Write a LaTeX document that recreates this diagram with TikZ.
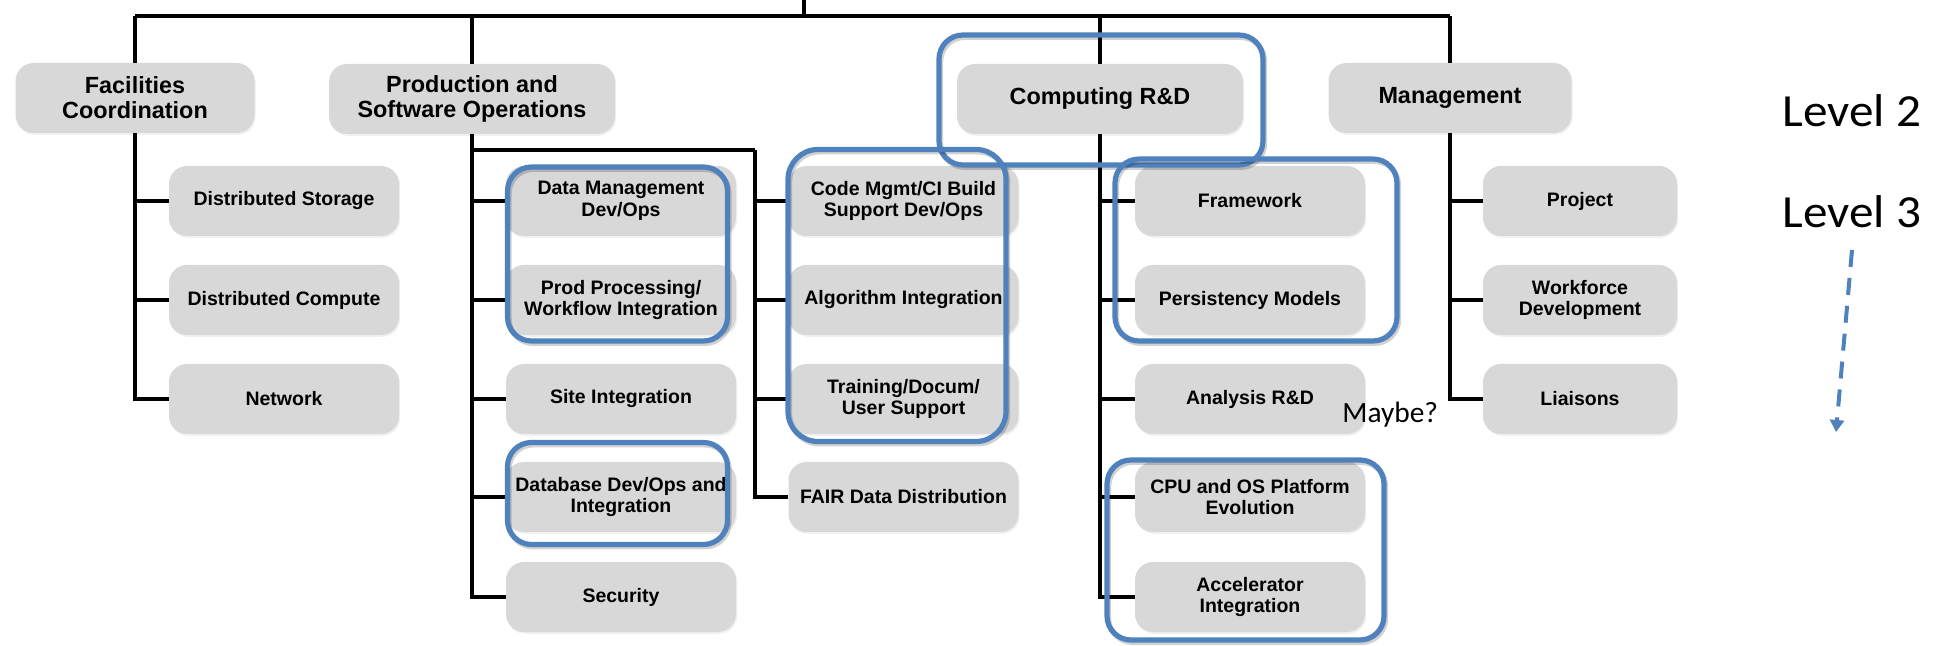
\documentclass[tikz,border=0pt]{standalone}
\usepackage{fontspec}
\setmainfont{Liberation Sans}
\newfontfamily\calib{Carlito}
\usetikzlibrary{shadows,arrows.meta}
\definecolor{boxgray}{HTML}{D8D8D8}
\definecolor{hlblue}{HTML}{4F81BD}
\tikzset{
  grayshadow/.style={drop shadow={shadow xshift=0.6pt,shadow yshift=-0.9pt,opacity=0.12}},
  lvtwo/.style={rounded corners=9pt, fill=boxgray, minimum height=35pt, align=center,
    inner sep=2pt, grayshadow, font=\fontsize{11.7pt}{12.6pt}\selectfont\bfseries},
  lvthree/.style={rounded corners=9pt, fill=boxgray, minimum height=35pt, minimum width=115pt,
    align=center, inner sep=1pt, grayshadow, font=\fontsize{9.75pt}{10.8pt}\selectfont\bfseries},
  mgchild/.style={lvthree, minimum width=97pt},
  conn/.style={line width=1.6pt, draw=black},
  topconn/.style={line width=2.2pt, draw=black},
  hl/.style={draw=hlblue, line width=2.6pt, rounded corners=12pt, inner sep=0pt,
    drop shadow={shadow xshift=0.8pt,shadow yshift=-1.2pt,opacity=0.18,fill=none,draw=black,line width=2.6pt}},
  leveltext/.style={font=\calib\fontsize{23pt}{27pt}\selectfont, inner sep=0pt, anchor=base west},
  maybetext/.style={font=\calib\fontsize{14.7pt}{17pt}\selectfont, inner sep=0pt, anchor=base west},
  dasharrow/.style={draw=hlblue, line width=2pt, dash pattern=on 8.5pt off 5.5pt,
    -{Triangle[width=7pt,length=6pt]}}
}
\begin{document}
\begin{tikzpicture}[x=0.5pt,y=-0.5pt]
\useasboundingbox (0,0) rectangle (1934,646);

% Level 2 boxes
\node[lvtwo, minimum width=119.5pt] (fac) at (135,98) {Facilities\\Coordination};
\node[lvtwo, minimum width=143pt] (prod) at (472,99) {Production and\\Software Operations};
\node[lvtwo, minimum width=143pt] (comp) at (1100,99) {Computing R\&D};
\node[lvtwo, minimum width=121.5pt] (mgmt) at (1450,98) {Management};

% Facilities children
\node[lvthree] (ds) at (284,201) {Distributed Storage};
\node[lvthree] (dc) at (284,300) {Distributed Compute};
\node[lvthree] (net) at (284,399) {Network};

% Production column 1
\node[lvthree] (dm) at (621,201) {Data Management\\Dev/Ops};
\node[lvthree] (pp) at (621,300) {Prod Processing/\\Workflow Integration};
\node[lvthree] (si) at (621,399) {Site Integration};
\node[lvthree] (db) at (621,497) {Database Dev/Ops and\\Integration};
\node[lvthree] (sec) at (621,597) {Security};

% Production column 2
\node[lvthree] (code) at (903.5,201) {Code Mgmt/CI Build\\Support Dev/Ops};
\node[lvthree] (alg) at (903.5,300) {Algorithm Integration};
\node[lvthree] (train) at (903.5,399) {Training/Docum/\\User Support};
\node[lvthree] (fair) at (903.5,497) {FAIR Data Distribution};

% Computing children
\node[lvthree] (fw) at (1250,201) {Framework};
\node[lvthree] (pm) at (1250,300) {Persistency Models};
\node[lvthree] (ana) at (1250,399) {Analysis R\&D};
\node[lvthree] (cpu) at (1250,497) {CPU and OS Platform\\Evolution};
\node[lvthree] (acc) at (1250,597) {Accelerator\\Integration};

% Management children
\node[mgchild] (proj) at (1580,201) {Project};
\node[mgchild] (wf) at (1580,300) {Workforce\\Development};
\node[mgchild] (lia) at (1580,399) {Liaisons};

% Top connectors
\coordinate (ttop) at (804,0);
\coordinate (tjoin) at (804,16);
\coordinate (tl) at (135,16);
\coordinate (tr) at (1450,16);
\draw[topconn] (tl) -- (tr);
\draw[conn] (ttop) -- (tjoin);
\draw[conn] (fac.north) -- (fac.north |- tl);
\draw[conn] (prod.north) -- (prod.north |- tl);
\draw[conn] (comp.north) -- (comp.north |- tl);
\draw[conn] (mgmt.north) -- (mgmt.north |- tl);

% Facilities tree
\draw[conn] (fac.south) |- (ds.west);
\draw[conn] (fac.south) |- (dc.west);
\draw[conn] (fac.south) |- (net.west);

% Production tree
\draw[conn] (prod.south) |- (dm.west);
\draw[conn] (prod.south) |- (pp.west);
\draw[conn] (prod.south) |- (si.west);
\draw[conn] (prod.south) |- (db.west);
\draw[conn] (prod.south) |- (sec.west);
\coordinate (pj) at (472,150);
\coordinate (pk) at (755,150);
\draw[conn] (pj) -- (pk);
\draw[conn] (pk) |- (code.west);
\draw[conn] (pk) |- (alg.west);
\draw[conn] (pk) |- (train.west);
\draw[conn] (pk) |- (fair.west);

% Computing tree
\draw[conn] (comp.south) |- (fw.west);
\draw[conn] (comp.south) |- (pm.west);
\draw[conn] (comp.south) |- (ana.west);
\draw[conn] (comp.south) |- (cpu.west);
\draw[conn] (comp.south) |- (acc.west);

% Management tree
\draw[conn] (mgmt.south) |- (proj.west);
\draw[conn] (mgmt.south) |- (wf.west);
\draw[conn] (mgmt.south) |- (lia.west);

% Blue highlights
\node[hl, minimum width=162pt, minimum height=65pt] (compH) at (1101,100) {};
\node[hl, minimum width=110pt, minimum height=87pt] (dmH) at (617.5,254) {};
\node[hl, minimum width=109pt, minimum height=146pt, rounded corners=15pt] (codeH) at (897,295.5) {};
\node[hl, minimum width=141pt, minimum height=91pt] (fwH) at (1256,250) {};
\node[hl, minimum width=110pt, minimum height=51pt] (dbH) at (617.5,493.5) {};
\node[hl, minimum width=138.5pt, minimum height=90pt] (cpuH) at (1245.5,550) {};

% Side annotations
\node[maybetext] (maybe) at (1342,423) {Maybe?};
\node[leveltext] (lv2) at (1782,127) {\scalebox{1.07}[1]{Level 2}};
\node[leveltext] (lv3) at (1782,228) {\scalebox{1.07}[1]{Level 3}};
\coordinate (arrS) at (1852,250);
\coordinate (arrE) at (1836,432);
\draw[dasharrow] (arrS) -- (arrE);
\end{tikzpicture}
\end{document}
